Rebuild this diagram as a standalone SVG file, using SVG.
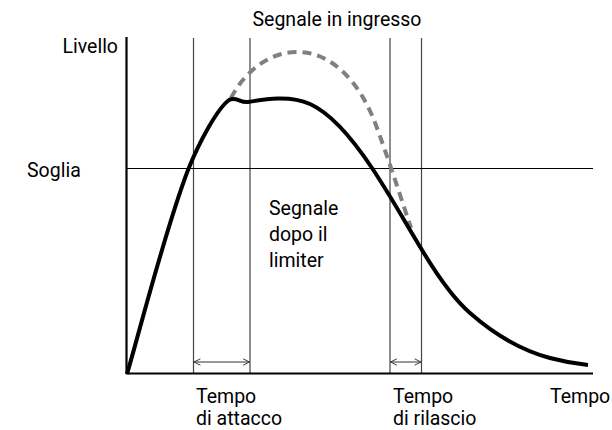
<svg xmlns="http://www.w3.org/2000/svg" width="612" height="430" viewBox="0 0 612 430">
<defs>
<style>
text{font-family:Roboto,"Liberation Sans",sans-serif;font-size:19.5px;fill:#000}
.vl{stroke:#444;stroke-width:1.2;fill:none}
.ar{stroke:#333;stroke-width:1;fill:none}
</style>
<marker id="ah" viewBox="0 0 10 10" refX="9" refY="5" markerWidth="8" markerHeight="8" markerUnits="userSpaceOnUse" orient="auto-start-reverse">
<path d="M1,1 L9,5 L1,9" fill="none" stroke="#333" stroke-width="1.2"/>
</marker>
</defs>
<rect width="612" height="430" fill="#fff"/>
<g id="connectors">
<line class="vl" x1="193.5" y1="38" x2="193.5" y2="373"/>
<line class="vl" x1="250" y1="38" x2="250" y2="373"/>
<line class="vl" x1="390" y1="38" x2="390" y2="373"/>
<line class="vl" x1="421.5" y1="38" x2="421.5" y2="373"/>
<line x1="127" y1="168.5" x2="593" y2="168.5" stroke="#000" stroke-width="1.2"/>
<line class="ar" x1="194" y1="362" x2="249.5" y2="362" marker-start="url(#ah)" marker-end="url(#ah)"/>
<line class="ar" x1="390.5" y1="362" x2="421" y2="362" marker-start="url(#ah)" marker-end="url(#ah)"/>
<line x1="126.5" y1="37" x2="126.5" y2="374" stroke="#000" stroke-width="2.2"/>
<line x1="126" y1="373.5" x2="593" y2="373.5" stroke="#000" stroke-width="2"/>
<path d="M231,98 C240,80 262,53 296,52 C330,51 360,80 377,128 C386,152 400,195 411,228" fill="none" stroke="#808080" stroke-width="4" stroke-dasharray="9,6"/>
<path d="M127,374 C140,330 165,230 188,170 C200,140 218,108 229,100 C236,96 240,103 248,102 C265,99 290,95 310,104 C330,113 350,135 372,168 C390,195 405,222 422,250 C440,280 455,300 470,313 C495,335 520,350 550,358 C565,362 578,364 588,365" fill="none" stroke="#000" stroke-width="4"/>
</g>
<g id="labels">
<text x="337" y="26" text-anchor="middle">Segnale in ingresso</text>
<text x="118" y="53" text-anchor="end">Livello</text>
<text x="27" y="177">Soglia</text>
<text x="269" y="215">Segnale</text>
<text x="269" y="241">dopo il</text>
<text x="269" y="267">limiter</text>
<text x="196" y="403">Tempo</text>
<text x="196" y="425">di attacco</text>
<text x="393" y="403">Tempo</text>
<text x="393" y="425">di rilascio</text>
<text x="550" y="403">Tempo</text>
</g>
</svg>
